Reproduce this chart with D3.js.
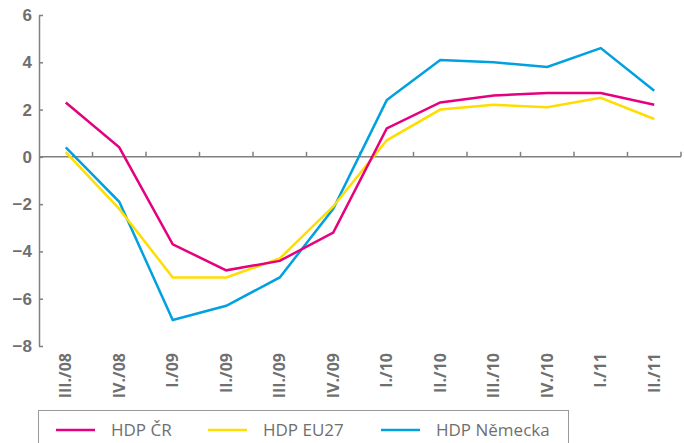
<!DOCTYPE html>
<html>
<head>
<meta charset="utf-8">
<script src="https://cdn.jsdelivr.net/npm/d3@7"></script>
<style>
  body { margin: 0; background: #fff; }
  svg { display: block; font-family: "Open Sans", sans-serif; }
</style>
</head>
<body>
<div id="chart"></div>
<script>
// quarters on the x axis
const categories = ['III./08', 'IV./08', 'I./09', 'II./09', 'III./09', 'IV./09',
  'I./10', 'II./10', 'III./10', 'IV./10', 'I./11', 'II./11'];

// series values (%)
const hdpCR = [2.3, 0.4, -3.7, -4.8, -4.4, -3.2, 1.2, 2.3, 2.6, 2.7, 2.7, 2.2];
const hdpEU27 = [0.2, -2.2, -5.1, -5.1, -4.3, -2.1, 0.7, 2.0, 2.2, 2.1, 2.5, 1.6];
const hdpNemecko = [0.4, -1.9, -6.9, -6.3, -5.1, -2.2, 2.4, 4.1, 4.0, 3.8, 4.6, 2.8];

const yTicks = [-8, -6, -4, -2, 0, 2, 4, 6];
const seriesNames = ['HDP ČR', 'HDP EU27', 'HDP Německa'];

const width = 684, height = 443;
const plotLeft = 39, plotRight = 681, plotTop = 15, plotBottom = 346;
const axisColor = '#808080';
const textColor = '#6f6f6f';

const svg = d3.select('#chart').append('svg')
  .attr('width', width)
  .attr('height', height);

const x = d3.scaleBand()
  .domain(categories)
  .range([plotLeft, plotRight]);

const y = d3.scaleLinear()
  .domain([-8, 6])
  .range([plotBottom, plotTop]);

// y axis, ticks pointing inward
const yAxis = svg.append('g')
  .attr('transform', `translate(${plotLeft},0)`)
  .call(d3.axisRight(y).tickValues(yTicks).tickSize(4).tickSizeOuter(0).tickFormat(d3.format('d')));
yAxis.select('.domain').attr('stroke', axisColor).attr('stroke-width', 1.5);
yAxis.selectAll('.tick line').attr('stroke', axisColor).attr('stroke-width', 1.5);
yAxis.selectAll('.tick text')
  .attr('x', -7)
  .attr('text-anchor', 'end')
  .attr('fill', textColor)
  .style('font-size', '17px')
  .style('font-weight', 'bold');

// zero line with category boundary ticks
const boundaries = categories.slice(1).map(c => x(c)).concat([plotRight]);
svg.append('line')
  .attr('x1', plotLeft).attr('x2', plotRight)
  .attr('y1', y(0)).attr('y2', y(0))
  .attr('stroke', axisColor).attr('stroke-width', 1.5);
svg.append('g').selectAll('line')
  .data(boundaries)
  .join('line')
  .attr('x1', d => d).attr('x2', d => d)
  .attr('y1', y(0)).attr('y2', y(0) - 5)
  .attr('stroke', axisColor).attr('stroke-width', 1.5);

// category labels, rotated
svg.append('g').selectAll('text')
  .data(categories)
  .join('text')
  .attr('transform', d => `translate(${x(d) + x.bandwidth() / 2},353) rotate(-90)`)
  .attr('dy', '0.35em')
  .attr('text-anchor', 'end')
  .attr('fill', textColor)
  .style('font-size', '16px')
  .style('font-weight', 'bold')
  .text(d => d);

// lines
const series = [
  { name: seriesNames[0], values: hdpCR, color: '#e5007d' },
  { name: seriesNames[1], values: hdpEU27, color: '#ffdd00' },
  { name: seriesNames[2], values: hdpNemecko, color: '#00a0e1' }
];

const line = d3.line()
  .x((d, i) => x(categories[i]) + x.bandwidth() / 2)
  .y(d => y(d));

svg.append('g').selectAll('path')
  .data(series.slice().reverse())
  .join('path')
  .attr('d', d => line(d.values))
  .attr('fill', 'none')
  .attr('stroke', d => d.color)
  .attr('stroke-width', 2.5);

// legend
const legend = svg.append('g');
legend.append('rect')
  .attr('x', 38.5).attr('y', 410.5)
  .attr('width', 530).attr('height', 60)
  .attr('fill', 'none')
  .attr('stroke', '#999')
  .attr('stroke-width', 1);

const legendX = [56, 208, 381];
const items = legend.selectAll('g.item')
  .data(series)
  .join('g')
  .attr('class', 'item')
  .attr('transform', (d, i) => `translate(${legendX[i]},430)`);
items.append('line')
  .attr('x1', 0).attr('x2', 39)
  .attr('stroke', d => d.color)
  .attr('stroke-width', 2.5);
items.append('text')
  .attr('x', 55)
  .attr('dy', '0.35em')
  .attr('fill', textColor)
  .style('font-size', '17px')
  .text(d => d.name);
</script>
</body>
</html>
